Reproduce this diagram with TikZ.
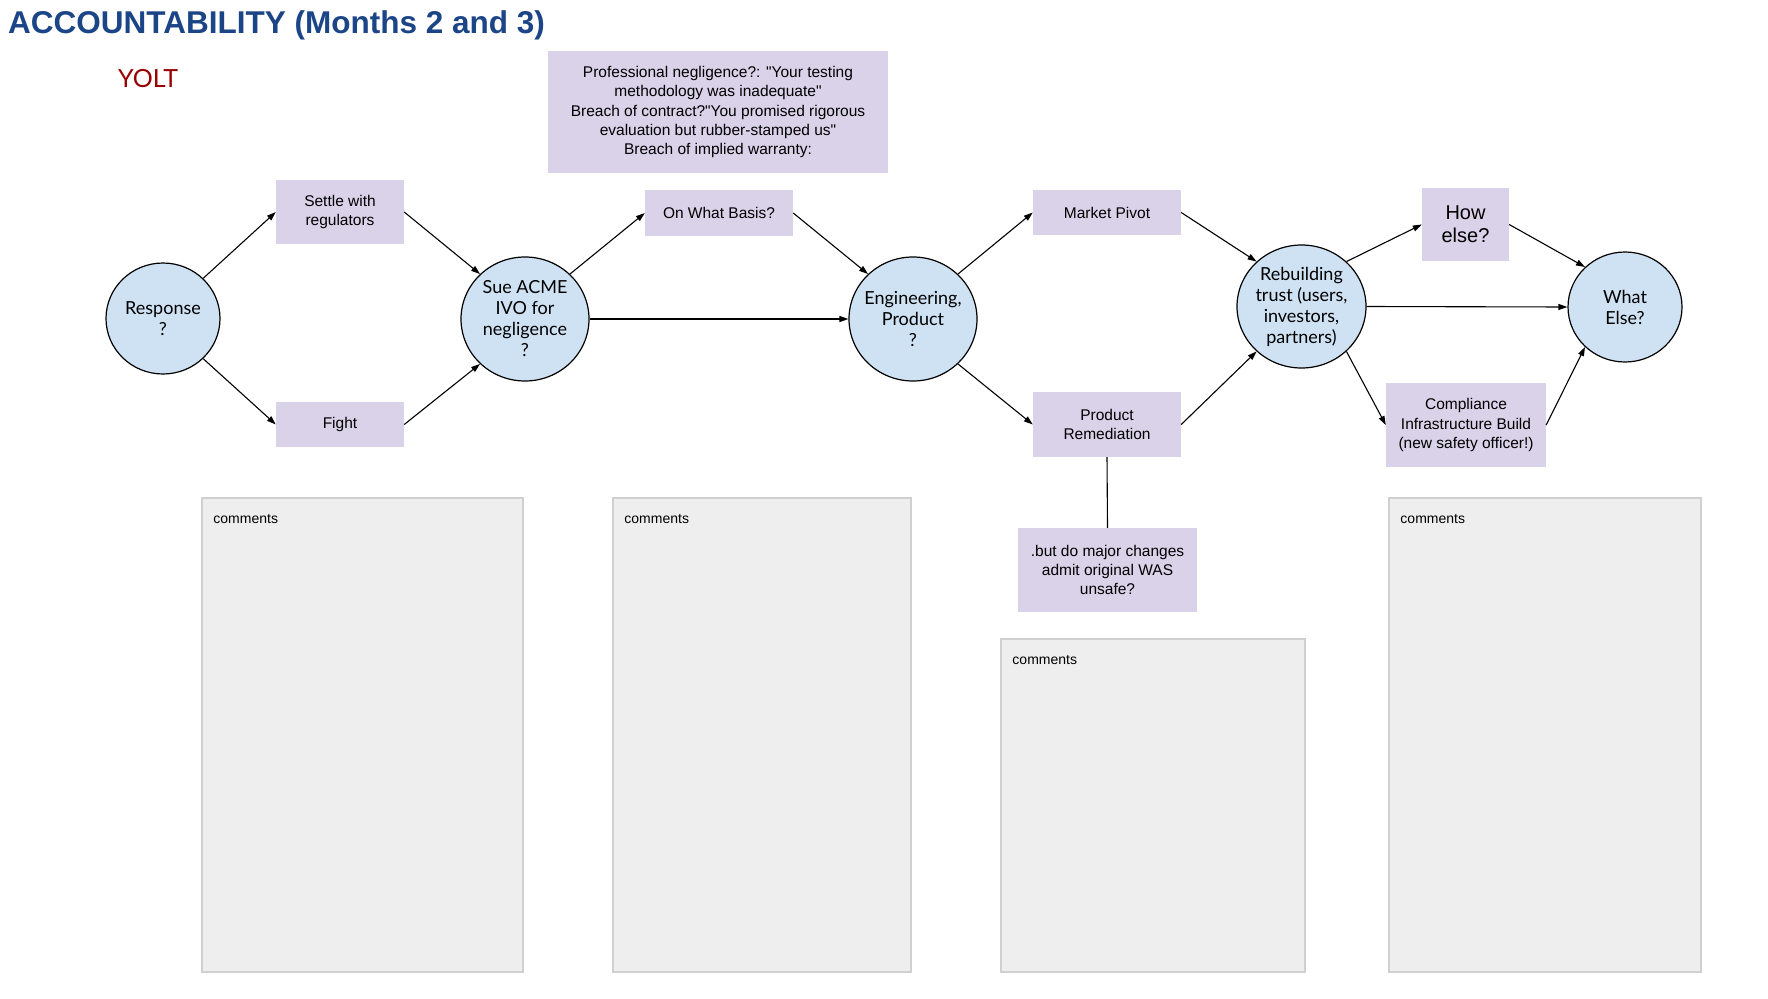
\documentclass[tikz,border=0pt]{standalone}
\usepackage{fontspec}
\setmainfont{Liberation Sans}[Ligatures=TeXOff]
\newfontfamily\latofont{Lato}
\usetikzlibrary{shapes.geometric,arrows.meta,calc}
\definecolor{titleblue}{HTML}{1C4587}
\definecolor{yoltred}{HTML}{990000}
\definecolor{boxpurple}{HTML}{D9D2E9}
\definecolor{circblue}{HTML}{CFE2F3}
\definecolor{commgray}{HTML}{EEEEEE}
\definecolor{commborder}{HTML}{D0D0D0}
\begin{document}
\begin{tikzpicture}[x=1pt,y=-1pt,
  pbox/.style={fill=boxpurple, inner sep=0pt, align=center, font=\fontsize{15.5}{19.3}\selectfont},
  circ/.style={ellipse, draw=black, line width=1.2pt, fill=circblue, inner sep=0pt},
  circtext/.style={align=center, inner sep=0pt, font=\latofont\fontsize{18}{21}\selectfont},
  conn/.style={line width=1.1pt, -{Triangle[length=9pt,width=6pt]}},
  plainline/.style={line width=1.1pt},
  commbox/.style={rectangle, fill=commgray, draw=commborder, line width=1.5pt, inner sep=0pt},
  commtext/.style={anchor=base west, inner sep=0pt, font=\fontsize{14}{16}\selectfont}
]
\useasboundingbox (0,0) rectangle (1768,998);
\fill[white] (0,0) rectangle (1768,998);

% titles
\node[anchor=base west, inner sep=0pt, text=titleblue, font=\bfseries\fontsize{31.5}{35}\selectfont] (title) at (8,34) {ACCOUNTABILITY (Months 2 and 3)};
\node[anchor=base west, inner sep=0pt, text=yoltred, font=\latofont\fontsize{25}{28}\selectfont] (yolt) at (118,87) {YOLT};

% comment boxes
\node[commbox, minimum width=321pt, minimum height=474pt] (c1) at (362.5,735) {};
\node[commbox, minimum width=298pt, minimum height=474pt] (c2) at (762,735) {};
\node[commbox, minimum width=304pt, minimum height=333pt] (c3) at (1153,805.5) {};
\node[commbox, minimum width=312pt, minimum height=474pt] (c4) at (1545,735) {};
\node[commtext] (c1t) at ($(c1.north west)+(12,26)$) {comments};
\node[commtext] (c2t) at ($(c2.north west)+(12,26)$) {comments};
\node[commtext] (c3t) at ($(c3.north west)+(12,26)$) {comments};
\node[commtext] (c4t) at ($(c4.north west)+(12,26)$) {comments};

% purple boxes
\node[pbox, minimum width=340pt, minimum height=122pt] (legal) at (718,112) {Professional negligence?: "Your testing\\methodology was inadequate"\\Breach of contract?"You promised rigorous\\evaluation but rubber-stamped us"\\Breach of implied warranty:};
\node[pbox, minimum width=128pt, minimum height=64pt] (settle) at (340,212) {Settle with\\regulators};
\node[pbox, minimum width=128pt, minimum height=45pt] (fight) at (340,424.5) {Fight};
\node[pbox, minimum width=148pt, minimum height=46pt] (owb) at (719,213) {On What Basis?};
\node[pbox, minimum width=148pt, minimum height=45pt] (mp) at (1107,212.5) {Market Pivot};
\node[pbox, minimum width=148pt, minimum height=65pt] (pr) at (1107,424.5) {Product\\Remediation};
\node[pbox, minimum width=87pt, minimum height=73pt, font=\fontsize{20}{23}\selectfont] (how) at (1465.5,224.5) {How\\else?};
\node[pbox, minimum width=160pt, minimum height=84pt] (comp) at (1466,425) {Compliance\\Infrastructure Build\\(new safety officer!)};
\node[pbox, minimum width=179pt, minimum height=84pt] (but) at (1107.5,570) {.but do major changes\\admit original WAS\\unsafe?};

% circles
\node[circ, minimum width=114pt, minimum height=111pt] (resp) at (163,318.5) {};
\node[circtext] (respt) at (resp) {Response\\?};
\node[circ, minimum width=128pt, minimum height=124pt] (sue) at (525,319) {};
\node[circtext] (suet) at (sue) {Sue ACME\\IVO for\\negligence\\?};
\node[circ, minimum width=128pt, minimum height=124pt] (eng) at (913,319) {};
\node[circtext] (engt) at (eng) {Engineering,\\Product\\?};
\node[circ, minimum width=129pt, minimum height=123pt] (reb) at (1301.5,306.5) {};
\node[circtext] (rebt) at (reb) {Rebuilding\\trust (users,\\investors,\\partners)};
\node[circ, minimum width=114pt, minimum height=110pt] (what) at (1625,307) {};
\node[circtext] (whatt) at (what) {What\\Else?};

% connectors
\draw[conn] (resp.45) -- (settle.west);
\draw[conn] (resp.-45) -- (fight.west);
\draw[conn] (settle.east) -- (sue.135);
\draw[conn] (fight.east) -- (sue.225);
\draw[conn] (sue.45) -- (owb.west);
\draw[conn] (sue.east) -- (eng.west);
\draw[conn] (owb.east) -- (eng.135);
\draw[conn] (eng.45) -- (mp.west);
\draw[conn] (eng.-45) -- (pr.west);
\draw[conn] (mp.east) -- (reb.135);
\draw[conn] (pr.east) -- (reb.225);
\draw[conn] (reb.45) -- (how.west);
\draw[conn] (reb.east) -- (what.west);
\draw[conn] (reb.-45) -- (comp.west);
\draw[conn] (how.east) -- (what.135);
\draw[conn] (comp.east) -- (what.225);
\draw[plainline] (pr.south) -- (but.north);
\end{tikzpicture}
\end{document}
